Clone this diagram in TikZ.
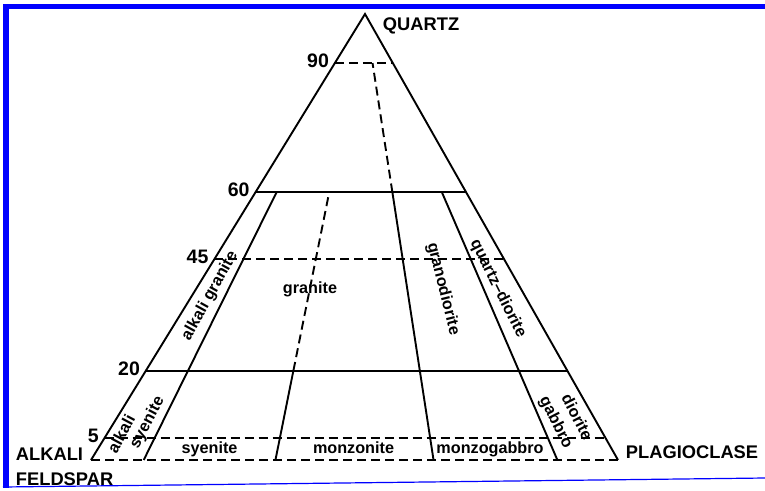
\documentclass[tikz,border=0pt]{standalone}
\usepackage{fontspec}
\setmainfont{Liberation Sans}
\usetikzlibrary{calc}
\definecolor{framecol}{HTML}{0000FF}

\begin{document}
\begin{tikzpicture}[x=1pt,y=-1pt,line width=1.9pt,
 brokenline/.style={dash pattern=on 9pt off 5pt},
 corner/.style={font=\bfseries\fontsize{18.3}{25}\selectfont,inner sep=0pt,align=left},
 tick/.style={font=\bfseries\fontsize{19.5}{19.5}\selectfont,inner sep=0pt,anchor=base east,xshift=-5pt,yshift=-4.5pt},
 field/.style={font=\bfseries\fontsize{16.2}{19}\selectfont,inner sep=0pt,align=center}]
\useasboundingbox (0,0) rectangle (765,490);
\fill[framecol] (3,3.5) rectangle (765,8.8);
\fill[framecol] (3,3.5) rectangle (8.5,488);
\draw[framecol,line width=1.2pt] (3,487) -- (765,478);
\coordinate (Q) at (365,14);
\coordinate (A) at (91,460);
\coordinate (P) at (618,460);
\foreach \lev/\q in {90/.89,60/.6,45/.45,20/.2,5/.05}{
 \coordinate (l\lev) at ($(A)!\q!(Q)$);
 \coordinate (r\lev) at ($(P)!\q!(Q)$);
 \node[tick] (t\lev) at (l\lev) {\lev};
}
\foreach \f/\r in {10/.1,35/.35,65/.65,90/.885}{
 \coordinate (b\f) at ($(A)!\r!(P)$);
 \coordinate (m\f) at ($(l20)!\r!(r20)$);
 \coordinate (u\f) at ($(l60)!\r!(r60)$);
 \coordinate (v\f) at ($(l90)!\r!(r90)$);
}
\draw (A) -- (Q) -- (P);
\draw[brokenline] (A) -- (P);
\draw[brokenline] (l90) -- (r90);
\draw (l60) -- (r60);
\draw[brokenline] (l45) -- (r45);
\draw (l20) -- (r20);
\draw[brokenline] (l5) -- (r5);
\draw (b10) -- (u10);
\draw (b35) -- (m35);
\draw[brokenline] (m35) -- (u35);
\draw (b65) -- (u65);
\draw[brokenline] (u65) -- (v65);
\draw (b90) -- (u90);
\node[corner,anchor=base west] (qtz) at (382,30) {QUARTZ};
\node[corner,anchor=west] (alk) at (15,467) {ALKALI\\FELDSPAR};
\node[corner,anchor=base west] (plg) at (625,458) {PLAGIOCLASE};
\node[field,rotate=61] (agr) at (210,296) {alkali granite};
\node[field,rotate=62] (asy1) at (121,433.5) {alkali};
\node[field,rotate=62] (asy2) at (147.5,422.5) {syenite};
\node[field,anchor=base] (gr) at (310,293) {granite};
\node[field,rotate=-76] (gd) at (443,289) {granodiorite};
\node[field,rotate=-63.5] (qd) at (498,289) {quartz--diorite};
\node[field,rotate=-63] (dg1) at (577.5,417) {diorite};
\node[field,rotate=-63] (dg2) at (555.5,422.5) {gabbro};
\node[field,anchor=base] (sy) at (209.5,453) {syenite};
\node[field,anchor=base] (mz) at (353.5,453) {monzonite};
\node[field,anchor=base] (mg) at (490,453) {monzogabbro};
\end{tikzpicture}
\end{document}
